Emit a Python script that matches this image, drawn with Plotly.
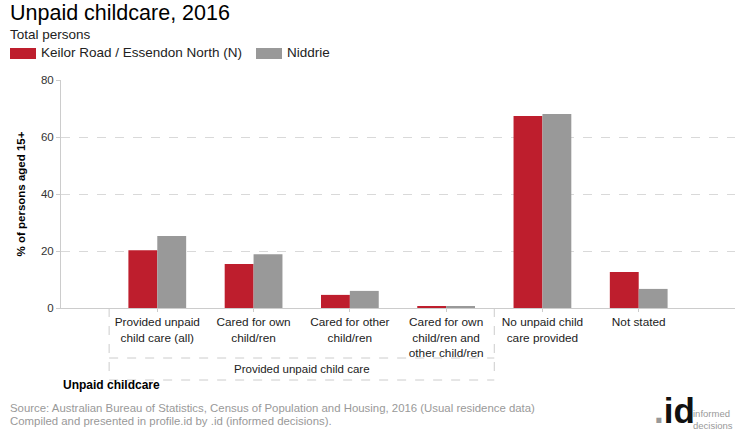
import plotly.graph_objects as go

categories = [
    "Provided unpaid<br>child care (all)",
    "Cared for own<br>child/ren",
    "Cared for other<br>child/ren",
    "Cared for own<br>child/ren and<br>other child/ren",
    "No unpaid child<br>care provided",
    "Not stated",
]
series_names = ["Keilor Road / Essendon North (N)", "Niddrie"]
keilor_values = [20.3, 15.4, 4.6, 0.4, 67.4, 12.6]
niddrie_values = [25.3, 18.9, 6.0, 0.7, 68.1, 6.7]
y_ticks = [0, 20, 40, 60, 80]
colors = ["#BE1E2D", "#999999"]

FONT = "Liberation Sans, Arial, sans-serif"
x = list(range(len(categories)))

fig = go.Figure()
for name, vals, col in zip(series_names, [keilor_values, niddrie_values], colors):
    fig.add_trace(go.Bar(x=x, y=vals, name=name, marker=dict(color=col, line=dict(width=0)),
                         showlegend=False))

L, R, T, B = 61, 5, 80, 132
W, H = 740, 440
pw, ph = W - L - R, H - T - B

def px_x(px):
    return (px - L) / pw

def px_y(py):
    return (H - B - py) / ph

fig.update_layout(
    width=W, height=H,
    margin=dict(l=L, r=R, t=T, b=B),
    paper_bgcolor="white", plot_bgcolor="white",
    barmode="group", bargap=0.4, bargroupgap=0,
    font=dict(family=FONT, size=11, color="#222"),
    xaxis=dict(
        range=[-1, 6], tickmode="array", tickvals=x, ticktext=categories,
        showline=True, linecolor="#cccccc", linewidth=1,
        ticks="outside", ticklen=3, tickcolor="#cccccc",
        showgrid=False, zeroline=False,
        tickfont=dict(family=FONT, size=11.8, color="#222"),
    ),
    yaxis=dict(
        range=[0, 80], tickmode="array", tickvals=y_ticks,
        showline=True, linecolor="#cccccc", linewidth=1,
        ticks="outside", ticklen=4, tickcolor="#cccccc",
        showgrid=True, gridcolor="#d9d9d9", griddash="dash", gridwidth=1,
        zeroline=False,
        tickfont=dict(family=FONT, size=11.5, color="#333"),
        title=dict(text="<b>% of persons aged 15+</b>", font=dict(family=FONT, size=11.5, color="#000"), standoff=12),
    ),
)

shapes = []
dash_line = dict(color="#cccccc", width=1, dash="dash")
y_top = px_y(308)
y_mid = px_y(358)
y_bot = px_y(380)
for xv in [-0.5, 3.5]:
    shapes.append(dict(type="line", xref="x", yref="paper", x0=xv, x1=xv, y0=y_top, y1=y_bot, line=dash_line))
for yv in [y_mid, y_bot]:
    shapes.append(dict(type="line", xref="x", yref="paper", x0=-0.5, x1=3.5, y0=yv, y1=yv, line=dash_line))

# legend swatches
shapes.append(dict(type="rect", xref="paper", yref="paper", x0=px_x(10), x1=px_x(36), y0=px_y(59), y1=px_y(48),
                   fillcolor=colors[0], line=dict(width=0)))
shapes.append(dict(type="rect", xref="paper", yref="paper", x0=px_x(256), x1=px_x(282), y0=px_y(59), y1=px_y(48),
                   fillcolor=colors[1], line=dict(width=0)))
fig.update_layout(shapes=shapes)

ann = []
def text(px, py, s, size, color="#000", xanchor="left", yanchor="middle", family=FONT):
    ann.append(dict(xref="paper", yref="paper", x=px_x(px), y=px_y(py), text=s, showarrow=False,
                    xanchor=xanchor, yanchor=yanchor, font=dict(family=family, size=size, color=color)))

text(8, 13, "Unpaid childcare, 2016", 21.5, "#000")
text(8, 34, "Total persons", 13.5, "#222")
text(39, 53, series_names[0], 13.5, "#222")
text(285, 53, series_names[1], 13.5, "#222")
text(61, 385, "<b>Unpaid childcare</b>", 12, "#000")
text(8, 408, "Source: Australian Bureau of Statistics, Census of Population and Housing, 2016 (Usual residence data)", 11.4, "#999")
text(8, 421, "Compiled and presented in profile.id by .id (informed decisions).", 11.4, "#999")
# logo
text(652, 432, "<b><span style='color:#999'>.</span>id</b>", 35, "#111", yanchor="bottom")
text(691, 413, "informed", 9.5, "#999")
text(691, 425, "decisions", 9.5, "#999")

ann.append(dict(xref="x", yref="paper", x=1.5, y=px_y(369), text="Provided unpaid child care", showarrow=False,
                xanchor="center", yanchor="middle", font=dict(family=FONT, size=11.5, color="#222")))
fig.update_layout(annotations=ann)

fig.write_html("out.html", config={"displayModeBar": False},
               post_script="document.body.style.margin='0';document.body.style.overflow='hidden';")
